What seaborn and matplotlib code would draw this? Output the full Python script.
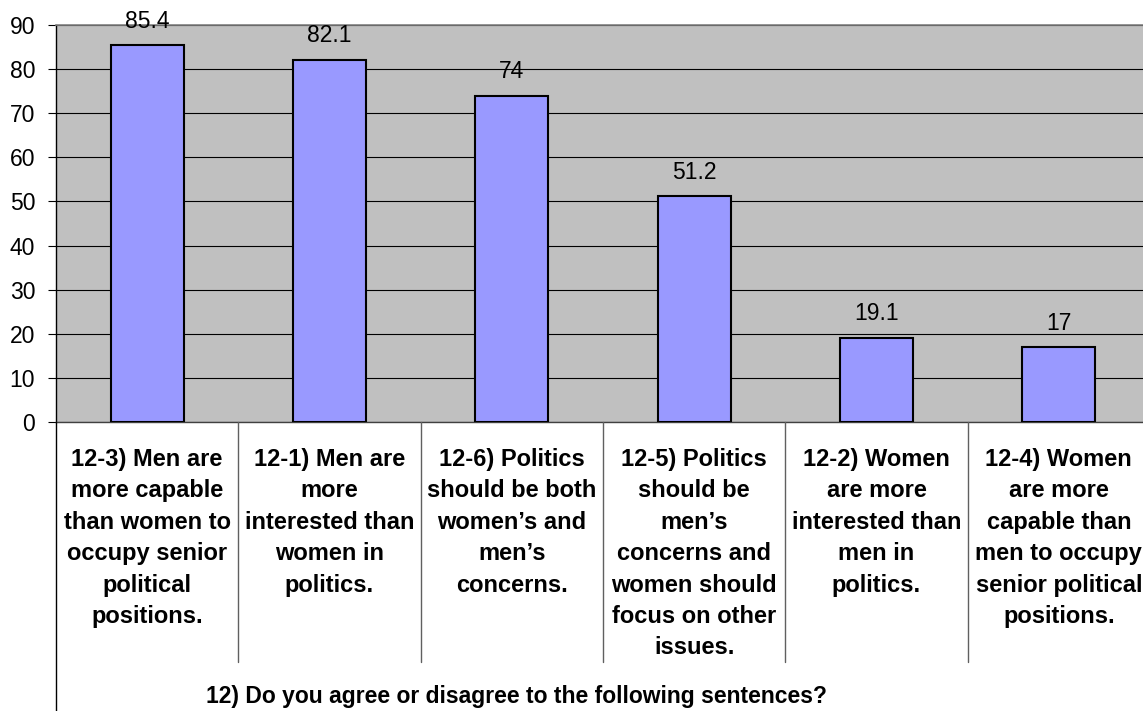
import matplotlib
matplotlib.use("Agg")
import matplotlib.pyplot as plt
import seaborn as sns
import pandas as pd
from matplotlib.lines import Line2D

categories = [
    "12-3) Men are\nmore capable\nthan women to\noccupy senior\npolitical\npositions.",
    "12-1) Men are\nmore\ninterested than\nwomen in\npolitics.",
    "12-6) Politics\nshould be both\nwomen\u2019s and\nmen\u2019s\nconcerns.",
    "12-5) Politics\nshould be\nmen\u2019s\nconcerns and\nwomen should\nfocus on other\nissues.",
    "12-2) Women\nare more\ninterested than\nmen in\npolitics.",
    "12-4) Women\nare more\ncapable than\nmen to occupy\nsenior political\npositions.",
]
values = [85.4, 82.1, 74, 51.2, 19.1, 17]
value_labels = ["85.4", "82.1", "74", "51.2", "19.1", "17"]
yticks = [0, 10, 20, 30, 40, 50, 60, 70, 80, 90]
axis_title = "12) Do you agree or disagree to the following sentences?"

sns.set_theme(style="white")
plt.rcParams['font.family'] = ['Liberation Sans', 'DejaVu Sans']

W, H = 1143, 711
fig = plt.figure(figsize=(W / 100, H / 100), dpi=100)
left_px, right_px, top_px, bot_px = 56, 1150, 25, 422
ax = fig.add_axes([left_px / W, 1 - bot_px / H, (right_px - left_px) / W, (bot_px - top_px) / H])
ax.set_facecolor("#C0C0C0")

df = pd.DataFrame({"cat": categories, "val": values})
sns.barplot(data=df, x="cat", y="val", ax=ax, color="#9999FF", saturation=1,
            edgecolor="black", linewidth=1.5, width=0.4, zorder=3)

ax.set_ylim(0, 90)
ax.set_xlim(-0.5, len(categories) - 0.5)
ax.set_yticks(yticks)
ax.yaxis.grid(True, color="black", linewidth=0.8, zorder=0)
ax.set_axisbelow(True)
ax.set_xlabel("")
ax.set_ylabel("")

ax.spines["right"].set_visible(False)
ax.spines["top"].set_color("#808080")
ax.spines["top"].set_linewidth(1.2)
ax.spines["left"].set_color("black")
ax.spines["left"].set_linewidth(1.0)
ax.spines["bottom"].set_color("#404040")
ax.spines["bottom"].set_linewidth(1.0)

ax.tick_params(axis="y", which="both", left=True, length=6, width=0.8, color="black",
               pad=9, labelsize=16.5, labelcolor="black", direction="out")
ax.tick_params(axis="x", length=0, pad=18.5, labelsize=17, labelcolor="black")
ax.set_xticks(range(len(categories)))
ax.set_xticklabels(categories, fontweight="bold", linespacing=1.47, ha="center", va="top")

for p, lab in zip(ax.patches, value_labels):
    ax.annotate(lab, (p.get_x() + p.get_width() / 2, p.get_height()),
                xytext=(0, 9), textcoords="offset points", ha="center", va="bottom",
                fontsize=16.5, color="black", annotation_clip=False)

# category separator lines
sep_bottom = 1 - 662 / H
axis_bottom = 1 - bot_px / H
for k in range(1, len(categories)):
    xd = k - 0.5
    xf = fig.transFigure.inverted().transform(ax.transData.transform((xd, 0)))[0]
    fig.add_artist(Line2D([xf, xf], [sep_bottom, axis_bottom], color="#606060", linewidth=1.0,
                          transform=fig.transFigure))
fig.add_artist(Line2D([left_px / W, left_px / W], [0, axis_bottom], color="black", linewidth=1.0,
                      transform=fig.transFigure))

fig.text(517 / W, 1 - 697 / H, axis_title, ha="center", va="center", fontsize=16.5,
         fontweight="bold", color="black")

fig.savefig("out.png", dpi=100)
